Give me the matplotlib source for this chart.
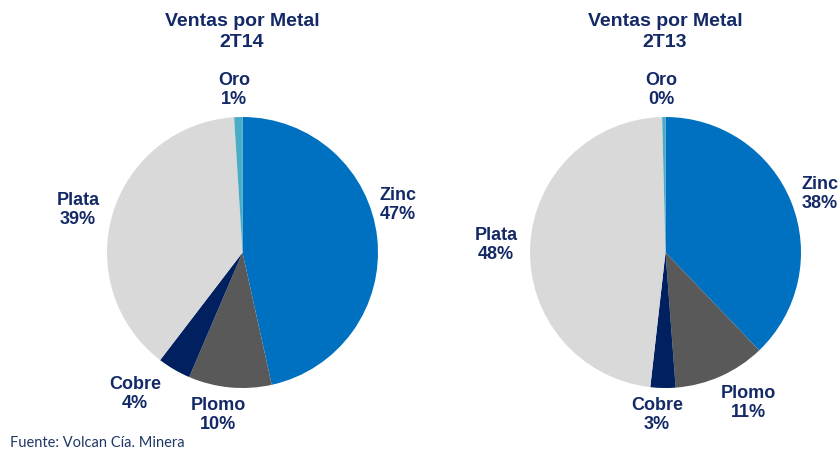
import matplotlib
matplotlib.use("Agg")
import matplotlib.pyplot as plt

metals = ["Zinc", "Plomo", "Cobre", "Plata", "Oro"]
share_2t14 = [47, 10, 4, 39, 1]
share_2t13 = [38, 11, 3, 48, 0.4]
label_2t13 = ["38%", "11%", "3%", "48%", "0%"]
label_2t14 = ["47%", "10%", "4%", "39%", "1%"]
colors = ["#0070C0", "#595959", "#002060", "#D9D9D9", "#4BACC6"]

W, H = 840, 451
fig = plt.figure(figsize=(W / 100, H / 100), dpi=100)
txt = "#142A66"
font = "Liberation Sans"

def px(x, y):
    return x / W, 1 - y / H

def draw(left_px, top_px, size_px, values, labels, title, title_x, label_pos):
    ax = fig.add_axes([left_px / W, 1 - (top_px + size_px) / H, size_px / W, size_px / H])
    ax.pie(values, colors=colors, startangle=90, counterclock=False,
           wedgeprops=dict(linewidth=0), radius=1)
    ax.set_xlim(-1, 1)
    ax.set_ylim(-1, 1)
    ax.set_aspect("equal")
    ax.axis("off")
    fig.text(*px(title_x, 32), title, ha="center", va="center", fontsize=14,
             fontweight="bold", color=txt, family=font, linespacing=1.25)
    for name, lab, (x, y) in zip(metals, labels, label_pos):
        fig.text(*px(x, y), f"{name}\n{lab}", ha="center", va="center", fontsize=13,
                 fontweight="bold", color=txt, family=font, linespacing=1.22)

draw(107, 117, 271, share_2t14, label_2t14, "Ventas por Metal\n2T14", 242,
     [(398, 205), (218, 415), (135, 394), (78, 210), (234, 90)])
draw(530, 117, 271, share_2t13, label_2t13, "Ventas por Metal\n2T13", 665,
     [(820, 194), (748, 403), (657, 415), (496, 245), (661, 90)])

fig.text(*px(10, 443), "Fuente: Volcan Cía. Minera", ha="left", va="center",
         fontsize=10.5, color="#1F3864", family="Lato")

fig.savefig("out.png", dpi=100)
